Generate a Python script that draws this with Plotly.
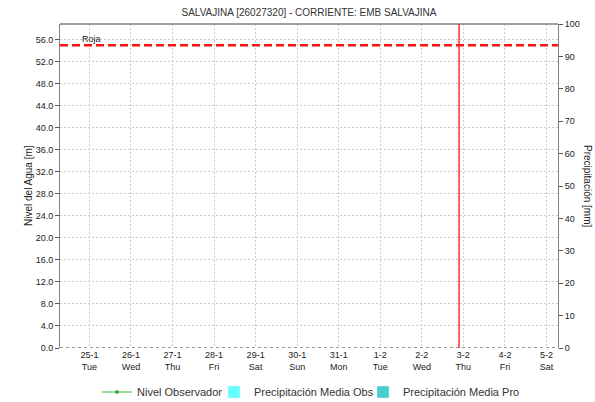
import plotly.graph_objects as go

# ---- data ----
dates = ["2022-01-25", "2022-01-26", "2022-01-27", "2022-01-28", "2022-01-29", "2022-01-30",
         "2022-01-31", "2022-02-01", "2022-02-02", "2022-02-03", "2022-02-04", "2022-02-05"]
day_labels = ["25-1", "26-1", "27-1", "28-1", "29-1", "30-1", "31-1", "1-2", "2-2", "3-2", "4-2", "5-2"]
weekday_labels = ["Tue", "Wed", "Thu", "Fri", "Sat", "Sun", "Mon", "Tue", "Wed", "Thu", "Fri", "Sat"]

# no observations are shown in the reference: every value is missing
nivel_y = [None, None, None, None, None, None, None, None, None, None, None, None]
precip_obs_y = [None, None, None, None, None, None, None, None, None, None, None, None]
precip_pro_y = [None, None, None, None, None, None, None, None, None, None, None, None]

nivel_roja = 55.0
now_time = "2022-02-02 21:30"
x_range = ["2022-01-24 07:00", "2022-02-05 06:40"]
y_range = [0, 58.85]
y2_range = [0, 100]
y_ticks = [0.0, 4.0, 8.0, 12.0, 16.0, 20.0, 24.0, 28.0, 32.0, 36.0, 40.0, 44.0, 48.0, 52.0, 56.0]
y2_ticks = [0, 10, 20, 30, 40, 50, 60, 70, 80, 90, 100]

FONT = "Liberation Sans, Arial, sans-serif"
TXT = "#222"
W, H = 595, 402

fig = go.Figure()
fig.add_trace(go.Scatter(x=dates, y=nivel_y, mode="lines+markers", name="Nivel Observador",
                         line=dict(color="#3cb43c", width=1), marker=dict(size=4, color="#3cb43c"),
                         legend="legend"))
fig.add_trace(go.Bar(x=dates, y=precip_obs_y, name="Precipitación Media Obs",
                     marker=dict(color="#66ffff"), yaxis="y2", legend="legend2"))
fig.add_trace(go.Bar(x=dates, y=precip_pro_y, name="Precipitación Media Pro",
                     marker=dict(color="#48cccc"), yaxis="y2", legend="legend3"))

ticktext = [f"{d}<br>{w}" for d, w in zip(day_labels, weekday_labels)]
grid = "#cccccc"


def legend_at(px):
    return dict(orientation="h", x=px / W, xanchor="left", xref="container",
                yref="container", y=1 - 392 / H, yanchor="middle",
                font=dict(family=FONT, size=11, color="#333"), itemwidth=30,
                bgcolor="rgba(0,0,0,0)")


fig.update_layout(
    width=W, height=H,
    margin=dict(l=60, r=37, t=24, b=54),
    paper_bgcolor="white", plot_bgcolor="white",
    font=dict(family=FONT, size=9, color=TXT),
    title=dict(text="SALVAJINA [26027320] - CORRIENTE: EMB SALVAJINA",
               x=(60 + 558) / 2 / W, xanchor="center", y=1 - 12 / H, yanchor="middle",
               font=dict(family=FONT, size=10, color="#333")),
    showlegend=True,
    legend=legend_at(97),
    legend2=legend_at(214),
    legend3=legend_at(363),
    xaxis=dict(type="date", range=x_range, tickvals=dates, ticktext=ticktext,
               showgrid=True, gridcolor=grid, griddash="2px,2px", gridwidth=1,
               showline=False, zeroline=False, ticks="", automargin=False,
               tickfont=dict(size=9, color=TXT)),
    yaxis=dict(range=y_range, tickvals=y_ticks, tickformat=".1f",
               showgrid=True, gridcolor=grid, griddash="2px,2px", gridwidth=1,
               showline=True, linecolor="#808080", linewidth=1, automargin=False,
               ticks="outside", ticklen=4, tickcolor="#555", zeroline=False,
               tickfont=dict(size=9, color=TXT)),
    yaxis2=dict(range=y2_range, tickvals=y2_ticks, overlaying="y", side="right",
                showgrid=False, showline=True, linecolor="#808080", linewidth=1,
                ticks="outside", ticklen=4, tickcolor="#555", zeroline=False, automargin=False,
                tickfont=dict(size=9, color=TXT)),
    shapes=[
        dict(type="line", xref="paper", yref="paper", x0=0, x1=1, y0=1, y1=1,
             line=dict(color="#808080", width=1.5)),
        dict(type="line", xref="paper", yref="y", x0=0, x1=1, y0=0, y1=0,
             line=dict(color="#333", width=1, dash="dot")),
        dict(type="line", xref="paper", yref="y", x0=0, x1=1, y0=nivel_roja, y1=nivel_roja,
             line=dict(color="#ff1010", width=2.5, dash="8px,4px")),
        dict(type="line", xref="x", yref="paper", x0=now_time, x1=now_time, y0=0, y1=1,
             line=dict(color="#ff2020", width=1.4)),
    ],
    annotations=[
        dict(text="Roja", xref="paper", yref="y", x=(80 - 60) / 498, y=nivel_roja,
             xanchor="left", yanchor="bottom", yshift=-1, showarrow=False,
             font=dict(family=FONT, size=9, color=TXT)),
        dict(text="Nivel del Agua [m]", xref="paper", yref="paper", x=(28 - 60) / 498, y=0.5,
             textangle=-90, showarrow=False, xanchor="center", yanchor="middle",
             font=dict(family=FONT, size=10, color=TXT)),
        dict(text="Precipitación [mm]", xref="paper", yref="paper", x=(588 - 60) / 498, y=0.5,
             textangle=90, showarrow=False, xanchor="center", yanchor="middle",
             font=dict(family=FONT, size=10, color=TXT)),
    ],
)

fig.write_html("out.html", config={"displayModeBar": False},
               post_script="document.body.style.margin='0';")
